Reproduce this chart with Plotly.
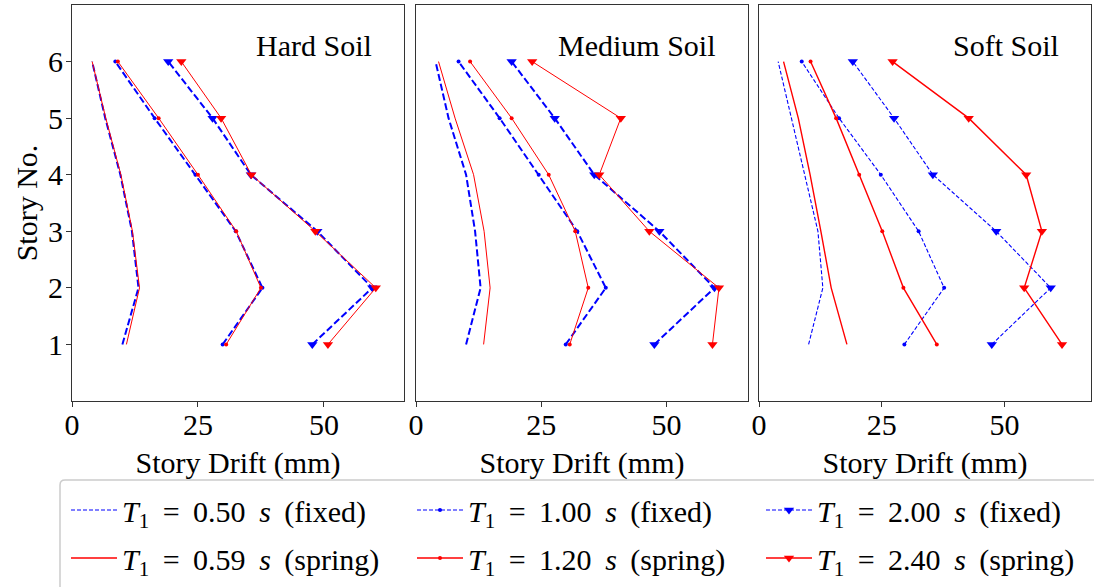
import plotly.graph_objects as go

# Story levels (1 = ground story)
stories = [1, 2, 3, 4, 5, 6]

# Story drift (mm) per story, listed from story 1 to story 6
hard_fixed_050 = [10.0, 13.2, 11.9, 9.6, 6.6, 4.0]
hard_spring_059 = [10.8, 13.4, 12.0, 9.7, 6.7, 4.0]
hard_fixed_100 = [29.9, 37.8, 32.5, 24.5, 16.4, 8.6]
hard_spring_120 = [30.6, 37.5, 32.6, 25.0, 17.2, 9.1]
hard_fixed_200 = [47.7, 59.6, 48.7, 35.5, 27.9, 19.1]
hard_spring_240 = [50.8, 60.3, 48.3, 35.6, 29.6, 21.7]

medium_fixed_050 = [10.0, 12.9, 11.8, 10.0, 6.5, 3.9]
medium_spring_059 = [13.5, 14.8, 13.6, 11.5, 7.8, 4.5]
medium_fixed_100 = [29.9, 37.9, 32.2, 24.5, 16.7, 8.5]
medium_spring_120 = [30.7, 34.4, 31.8, 26.5, 19.1, 10.8]
medium_fixed_200 = [47.6, 59.6, 48.6, 35.6, 27.7, 19.1]
medium_spring_240 = [59.2, 60.5, 46.6, 36.6, 40.9, 23.2]

soft_fixed_050 = [10.1, 13.0, 12.0, 9.3, 6.5, 3.9]
soft_spring_059 = [17.9, 14.7, 12.6, 10.4, 8.0, 5.0]
soft_fixed_100 = [29.6, 37.7, 32.5, 24.8, 16.3, 8.7]
soft_spring_120 = [36.2, 29.4, 25.1, 20.4, 15.7, 10.5]
soft_fixed_200 = [47.4, 59.4, 48.3, 35.4, 27.5, 19.1]
soft_spring_240 = [61.7, 54.0, 57.6, 54.4, 42.7, 27.2]

panel_titles = ["Hard Soil", "Medium Soil", "Soft Soil"]
x_ticks = [0, 25, 50]
y_ticks = [1, 2, 3, 4, 5, 6]
legend_names = [
    "<i>T</i><sub>1</sub>\u2009 = \u20090.50 \u2009<i>s</i>\u2009 (fixed)",
    "<i>T</i><sub>1</sub>\u2009 = \u20090.59 \u2009<i>s</i>\u2009 (spring)",
    "<i>T</i><sub>1</sub>\u2009 = \u20091.00 \u2009<i>s</i>\u2009 (fixed)",
    "<i>T</i><sub>1</sub>\u2009 = \u20091.20 \u2009<i>s</i>\u2009 (spring)",
    "<i>T</i><sub>1</sub>\u2009 = \u20092.00 \u2009<i>s</i>\u2009 (fixed)",
    "<i>T</i><sub>1</sub>\u2009 = \u20092.40 \u2009<i>s</i>\u2009 (spring)",
]

panels = [
    [hard_fixed_050, hard_spring_059, hard_fixed_100, hard_spring_120, hard_fixed_200, hard_spring_240],
    [medium_fixed_050, medium_spring_059, medium_fixed_100, medium_spring_120, medium_fixed_200, medium_spring_240],
    [soft_fixed_050, soft_spring_059, soft_fixed_100, soft_spring_120, soft_fixed_200, soft_spring_240],
]

FONT = "Liberation Serif, serif"
FS = 30
INK = "#000000"
BLUE = "#0000ff"
RED = "#ff0000"

W, H = 1094, 587
ML, MR, MT, MB = 72, 3, 5, 181
PW = W - ML - MR
PH = H - MT - MB

# pixel extents of the three panels
panel_px = [(72, 404), (416, 748), (759, 1091)]
x_ranges = [[0, 65.9], [0, 66.3], [0, 67.6]]

fig = go.Figure()

markers = [None, None, "circle", "circle", "triangle-down", "triangle-down"]
legend_ids = ["legend", "legend", "legend2", "legend2", "legend3", "legend3"]

for p, series in enumerate(panels):
    xa = "x" if p == 0 else f"x{p + 1}"
    ya = "y" if p == 0 else f"y{p + 1}"
    soft = p == 2
    for k, vals in enumerate(series):
        fixed = k % 2 == 0
        color = BLUE if fixed else RED
        if fixed:
            width = 1.1 if soft else 2.0
            dash = "4px,2px" if soft else "7px,3px"
        else:
            width = 1.4 if soft else 1.0
            dash = "solid"
        m = markers[k]
        mode = "lines" if m is None else "lines+markers"
        msize = 4 if m == "circle" else 9
        fig.add_trace(go.Scatter(
            x=vals, y=stories, xaxis=xa, yaxis=ya,
            mode=mode,
            line=dict(color=color, width=width, dash=dash),
            marker=dict(symbol=m or "circle", size=msize, color=color, line=dict(width=0)),
            name=legend_names[k],
            legend=legend_ids[k],
            legendgroup=f"g{k}",
            showlegend=soft,
        ))

frame = dict(showline=True, mirror=True, linecolor="#333333", linewidth=1,
             showgrid=False, zeroline=False)
tick_style = dict(ticks="outside", ticklen=5, tickcolor="#333333",
                  tickfont=dict(family=FONT, size=FS, color=INK))

fig.update_layout(
    width=W, height=H,
    margin=dict(l=ML, r=MR, t=MT, b=MB),
    plot_bgcolor="white", paper_bgcolor="white",
)

for p in range(3):
    sfx = "" if p == 0 else str(p + 1)
    x0, x1 = panel_px[p]
    fig.update_layout({"xaxis" + sfx: dict(
        domain=[(x0 - ML) / PW, (x1 - ML) / PW],
        range=x_ranges[p], tickvals=x_ticks, anchor="y" + sfx,
        ticklabelstandoff=-8,
        title=dict(text="Story Drift (mm)", font=dict(family=FONT, size=FS, color=INK), standoff=11),
        **frame, **tick_style,
    )})
    if p == 0:
        fig.update_layout(yaxis=dict(
            range=[0, 7], tickvals=y_ticks, domain=[0, 1], anchor="x",
            ticklabelstandoff=-3,
            title=dict(text="Story No.", font=dict(family=FONT, size=FS, color=INK), standoff=1),
            **frame, **tick_style,
        ))
    else:
        fig.update_layout({"yaxis" + sfx: dict(
            range=[0, 7], matches="y", domain=[0, 1], anchor="x" + sfx,
            showticklabels=False, ticks="", **frame,
        )})

for p in range(3):
    sfx = "" if p == 0 else str(p + 1)
    fig.add_annotation(
        text=panel_titles[p], xref=f"x{sfx} domain", yref=f"y{sfx} domain",
        x=0.91, y=(406 - 46) / PH, xanchor="right", yanchor="middle",
        showarrow=False, font=dict(family=FONT, size=FS, color=INK),
    )

# Legend: three columns, each a separate legend, framed by one rounded box
leg_font = dict(family=FONT, size=FS, color=INK)
col_px = [66, 412, 761]
for i, lid in enumerate(["legend", "legend2", "legend3"]):
    fig.update_layout({lid: dict(
        x=(col_px[i] - ML) / PW, y=(406 - 490) / PH,
        xanchor="left", yanchor="top", orientation="v",
        bgcolor="rgba(0,0,0,0)", borderwidth=0,
        font=leg_font, tracegroupgap=6, itemwidth=46,
    )})

bx0, bx1 = (60 - ML) / PW, (1100 - ML) / PW
by0, by1 = (406 - 600) / PH, (406 - 486) / PH
rx, ry = 5 / PW, 5 / PH
fig.add_shape(
    type="path", xref="paper", yref="paper", layer="below",
    path=(
        f"M {bx0 + rx},{by1} L {bx1},{by1} L {bx1},{by0} L {bx0},{by0} "
        f"L {bx0},{by1 - ry} Q {bx0},{by1} {bx0 + rx},{by1} Z"
    ),
    line=dict(color="#cccccc", width=1.5), fillcolor="white",
)

fig.write_html("out.html")
